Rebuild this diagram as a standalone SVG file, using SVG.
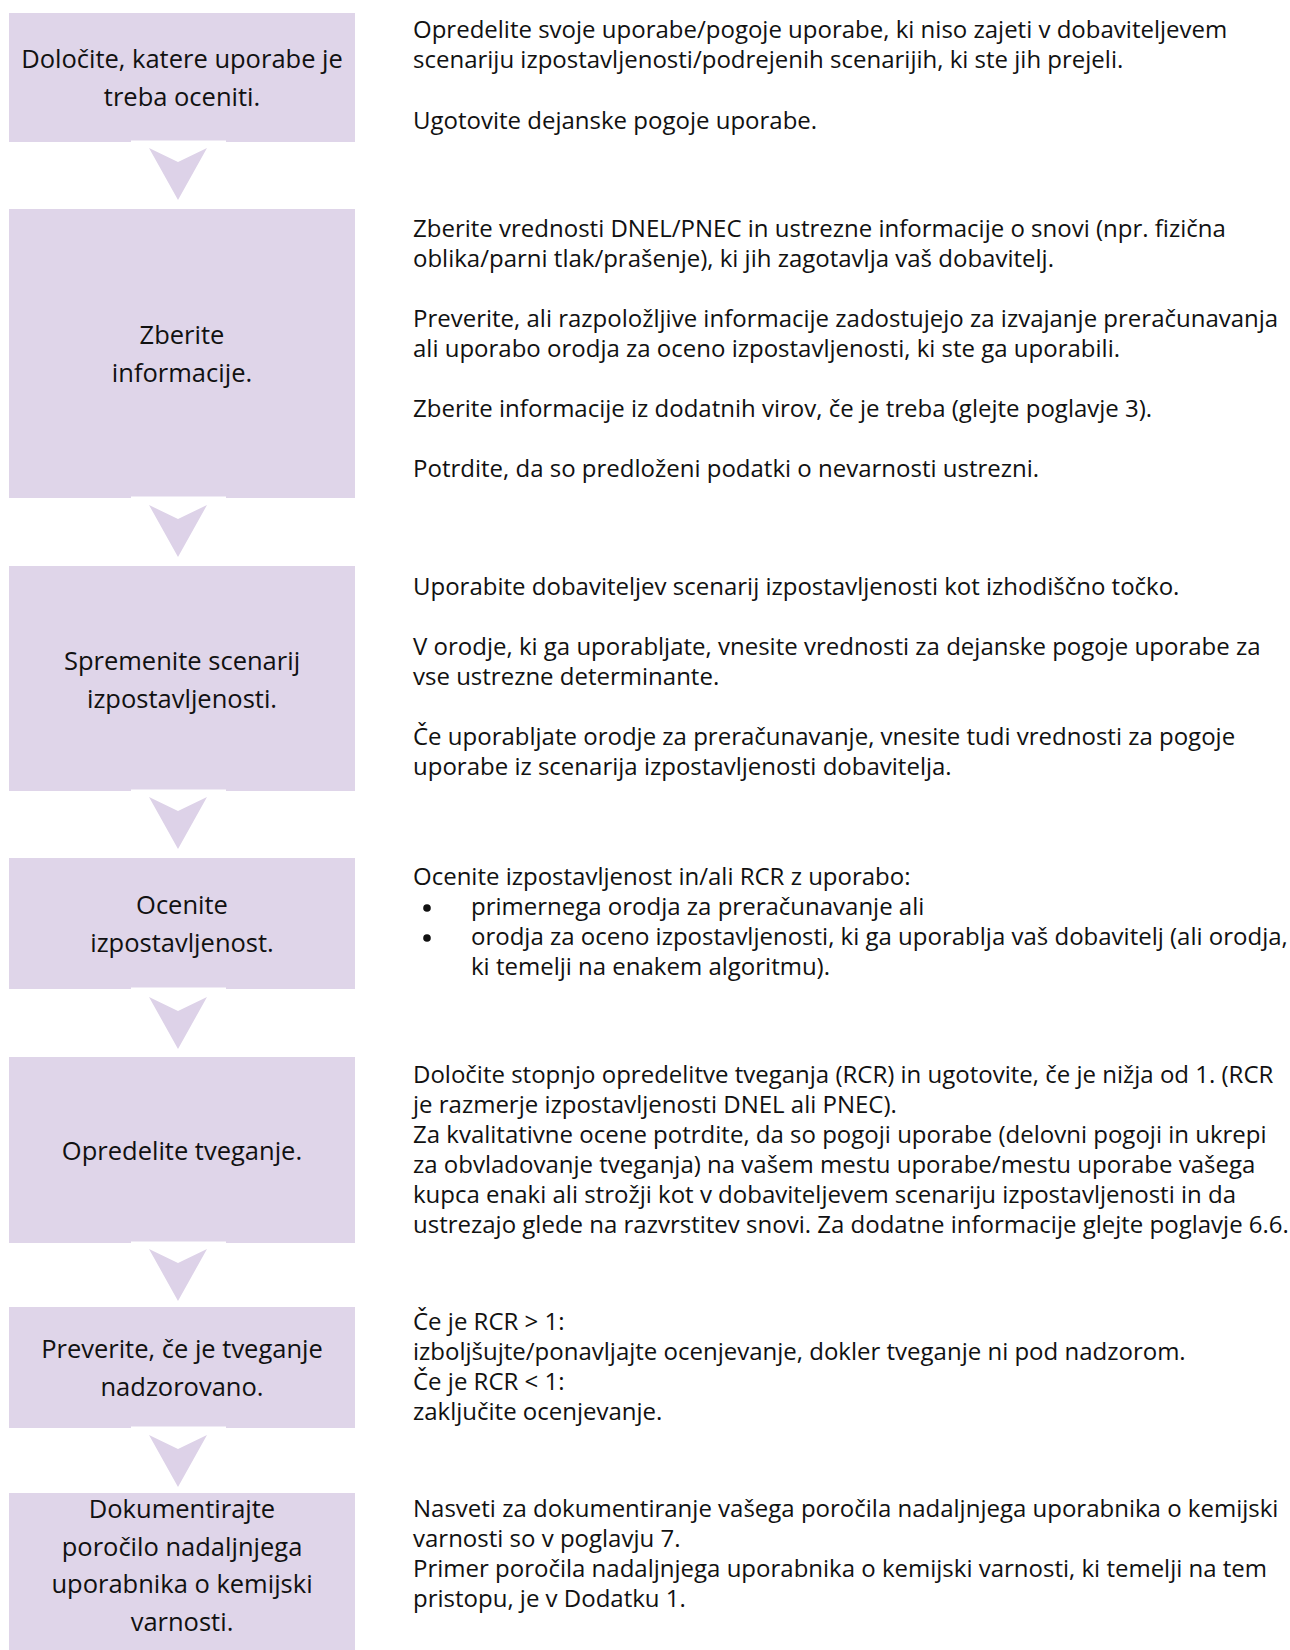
<svg xmlns="http://www.w3.org/2000/svg" width="1290" height="1650" viewBox="0 0 1290 1650">
<style>
.box{fill:#DFD5E9}
.lt{font-family:"Open Sans","Liberation Sans",sans-serif;font-size:25.5px;fill:#111;text-anchor:middle}
.rt{font-family:"Open Sans","Liberation Sans",sans-serif;font-size:24px;fill:#111}
.bul{fill:#111}
.chev{fill:#DDD2E8}
.gap{fill:#FFFFFF}
</style>
<defs>
<path id="chevron" d="M-29,0 L0,14 L29,0 L0,52 Z"/>
<filter id="soft" x="-20%" y="-20%" width="140%" height="140%"><feGaussianBlur stdDeviation="0.7"/></filter>
</defs>
<rect width="1290" height="1650" fill="#FFFFFF"/>

<g id="node1">
<rect class="box" x="9" y="13" width="346" height="129"/>
<text class="lt" x="182" y="68">Določite, katere uporabe je</text>
<text class="lt" x="182" y="105.5">treba oceniti.</text>
<text class="rt" x="413" y="38">Opredelite svoje uporabe/pogoje uporabe, ki niso zajeti v dobaviteljevem</text>
<text class="rt" x="413" y="68">scenariju izpostavljenosti/podrejenih scenarijih, ki ste jih prejeli.</text>
<text class="rt" x="413" y="129">Ugotovite dejanske pogoje uporabe.</text>
</g>

<g id="node2">
<rect class="box" x="9" y="209" width="346" height="289"/>
<text class="lt" x="182" y="344">Zberite</text>
<text class="lt" x="182" y="381.5">informacije.</text>
<text class="rt" x="413" y="237">Zberite vrednosti DNEL/PNEC in ustrezne informacije o snovi (npr. fizična</text>
<text class="rt" x="413" y="267">oblika/parni tlak/prašenje), ki jih zagotavlja vaš dobavitelj.</text>
<text class="rt" x="413" y="327">Preverite, ali razpoložljive informacije zadostujejo za izvajanje preračunavanja</text>
<text class="rt" x="413" y="357">ali uporabo orodja za oceno izpostavljenosti, ki ste ga uporabili.</text>
<text class="rt" x="413" y="417">Zberite informacije iz dodatnih virov, če je treba (glejte poglavje 3).</text>
<text class="rt" x="413" y="477">Potrdite, da so predloženi podatki o nevarnosti ustrezni.</text>
</g>

<g id="node3">
<rect class="box" x="9" y="566" width="346" height="225"/>
<text class="lt" x="182" y="670">Spremenite scenarij</text>
<text class="lt" x="182" y="707.5">izpostavljenosti.</text>
<text class="rt" x="413" y="595">Uporabite dobaviteljev scenarij izpostavljenosti kot izhodiščno točko.</text>
<text class="rt" x="413" y="655">V orodje, ki ga uporabljate, vnesite vrednosti za dejanske pogoje uporabe za</text>
<text class="rt" x="413" y="685">vse ustrezne determinante.</text>
<text class="rt" x="413" y="745">Če uporabljate orodje za preračunavanje, vnesite tudi vrednosti za pogoje</text>
<text class="rt" x="413" y="775">uporabe iz scenarija izpostavljenosti dobavitelja.</text>
</g>

<g id="node4">
<rect class="box" x="9" y="858" width="346" height="131"/>
<text class="lt" x="182" y="914">Ocenite</text>
<text class="lt" x="182" y="951.5">izpostavljenost.</text>
<text class="rt" x="413" y="885">Ocenite izpostavljenost in/ali RCR z uporabo:</text>
<circle class="bul" cx="427" cy="908" r="3.8"/>
<text class="rt" x="471" y="915">primernega orodja za preračunavanje ali</text>
<circle class="bul" cx="427" cy="938" r="3.8"/>
<text class="rt" x="471" y="945">orodja za oceno izpostavljenosti, ki ga uporablja vaš dobavitelj (ali orodja,</text>
<text class="rt" x="471" y="975">ki temelji na enakem algoritmu).</text>
</g>

<g id="node5">
<rect class="box" x="9" y="1057" width="346" height="186"/>
<text class="lt" x="182" y="1160">Opredelite tveganje.</text>
<text class="rt" x="413" y="1083">Določite stopnjo opredelitve tveganja (RCR) in ugotovite, če je nižja od 1. (RCR</text>
<text class="rt" x="413" y="1113">je razmerje izpostavljenosti DNEL ali PNEC).</text>
<text class="rt" x="413" y="1143">Za kvalitativne ocene potrdite, da so pogoji uporabe (delovni pogoji in ukrepi</text>
<text class="rt" x="413" y="1173">za obvladovanje tveganja) na vašem mestu uporabe/mestu uporabe vašega</text>
<text class="rt" x="413" y="1203">kupca enaki ali strožji kot v dobaviteljevem scenariju izpostavljenosti in da</text>
<text class="rt" x="413" y="1233">ustrezajo glede na razvrstitev snovi. Za dodatne informacije glejte poglavje 6.6.</text>
</g>

<g id="node6">
<rect class="box" x="9" y="1307" width="346" height="121"/>
<text class="lt" x="182" y="1358">Preverite, če je tveganje</text>
<text class="lt" x="182" y="1395.5">nadzorovano.</text>
<text class="rt" x="413" y="1330">Če je RCR &gt; 1:</text>
<text class="rt" x="413" y="1360">izboljšujte/ponavljajte ocenjevanje, dokler tveganje ni pod nadzorom.</text>
<text class="rt" x="413" y="1390">Če je RCR &lt; 1:</text>
<text class="rt" x="413" y="1420">zaključite ocenjevanje.</text>
</g>

<g id="node7">
<rect class="box" x="9" y="1493" width="346" height="157"/>
<text class="lt" x="182" y="1518">Dokumentirajte</text>
<text class="lt" x="182" y="1555.5">poročilo nadaljnjega</text>
<text class="lt" x="182" y="1593">uporabnika o kemijski</text>
<text class="lt" x="182" y="1630.5">varnosti.</text>
<text class="rt" x="413" y="1517">Nasveti za dokumentiranje vašega poročila nadaljnjega uporabnika o kemijski</text>
<text class="rt" x="413" y="1547">varnosti so v poglavju 7.</text>
<text class="rt" x="413" y="1577">Primer poročila nadaljnjega uporabnika o kemijski varnosti, ki temelji na tem</text>
<text class="rt" x="413" y="1607">pristopu, je v Dodatku 1.</text>
</g>

<g id="connectors">
<rect class="gap" x="131" y="140.5" width="95" height="1.5"/>
<rect class="gap" x="131" y="496.5" width="95" height="1.5"/>
<rect class="gap" x="131" y="789.5" width="95" height="1.5"/>
<rect class="gap" x="131" y="987.5" width="95" height="1.5"/>
<rect class="gap" x="131" y="1241.5" width="95" height="1.5"/>
<rect class="gap" x="131" y="1426.5" width="95" height="1.5"/>
<use href="#chevron" class="chev" filter="url(#soft)" transform="translate(178,148)"/>
<use href="#chevron" class="chev" filter="url(#soft)" transform="translate(178,505)"/>
<use href="#chevron" class="chev" filter="url(#soft)" transform="translate(178,797)"/>
<use href="#chevron" class="chev" filter="url(#soft)" transform="translate(178,997)"/>
<use href="#chevron" class="chev" filter="url(#soft)" transform="translate(178,1249)"/>
<use href="#chevron" class="chev" filter="url(#soft)" transform="translate(178,1435)"/>
</g>
</svg>
